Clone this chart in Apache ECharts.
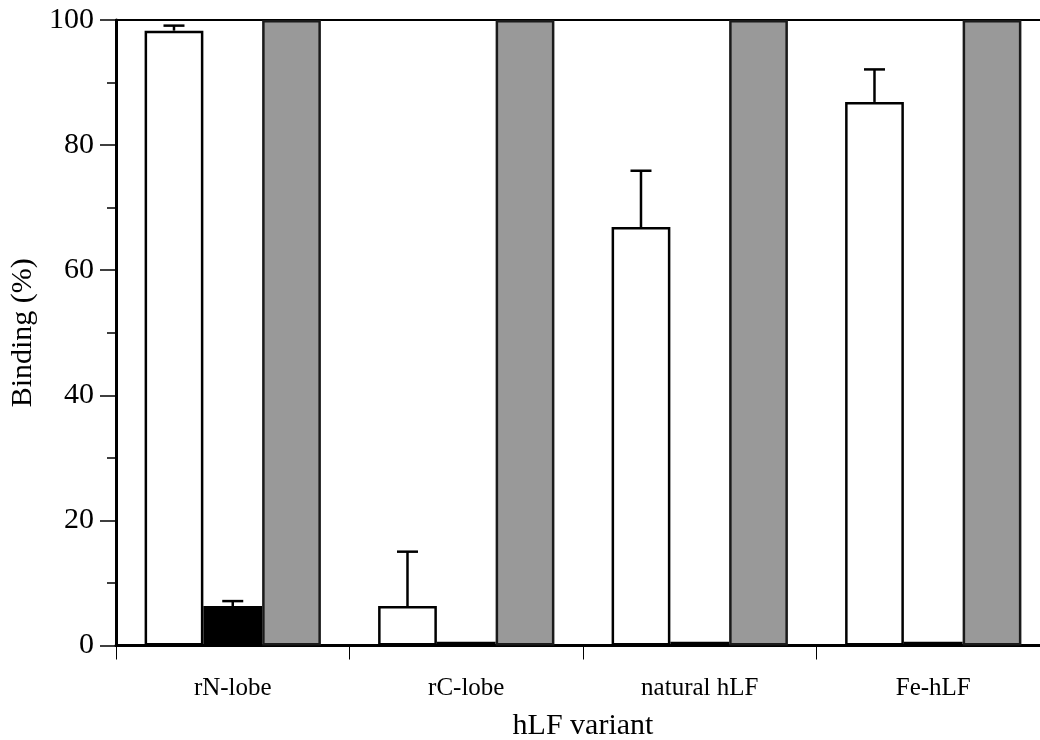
<!DOCTYPE html>
<html>
<head>
<meta charset="utf-8">
<script src="https://cdn.jsdelivr.net/npm/echarts@6/dist/echarts.min.js"></script>
<style>
html,body{margin:0;padding:0;background:#fff;}
#chart{width:1040px;height:740px;}
</style>
</head>
<body>
<div id="chart"></div>
<script>
const categories = ['rN-lobe', 'rC-lobe', 'natural hLF', 'Fe-hLF'];
const whiteValues = [98.3, 6.3, 66.9, 86.9];
const whiteErrTop = [99.1, 15.0, 75.9, 92.1];
const blackValues = [6.3, 0.6, 0.6, 0.6];
const blackErrTop = [7.1, null, null, null];
const grayValues = [100, 100, 100, 100];
const yTicks = [0, 20, 40, 60, 80, 100];

const FONT = '"Liberation Serif", "Times New Roman", serif';
const CAT_GAP = 0.245;
const chart = echarts.init(document.getElementById('chart'), null, {renderer: 'canvas'});

function errData(vals, tops) {
  const out = [];
  vals.forEach((v, i) => { if (tops[i] != null) out.push([i, v, tops[i]]); });
  return out;
}
function errSeries(data, slot) {
  return {
    type: 'custom',
    z: 5,
    data: data,
    encode: {x: 0, y: [1, 2]},
    renderItem: function (params, api) {
      const bw = api.size([1, 0])[0];
      const barW = bw * (1 - CAT_GAP) / 3;
      const base = api.coord([api.value(0), api.value(1)]);
      const top = api.coord([api.value(0), api.value(2)]);
      const x = base[0] + (slot - 1) * barW;
      const style = {stroke: '#000', lineWidth: 2.5};
      return {
        type: 'group',
        children: [
          {type: 'line', shape: {x1: x, y1: base[1], x2: x, y2: top[1]}, style: style},
          {type: 'line', shape: {x1: x - 10.5, y1: top[1], x2: x + 10.5, y2: top[1]}, style: style}
        ]
      };
    }
  };
}

const gapStr = (CAT_GAP * 100) + '%';
chart.setOption({
  animation: false,
  backgroundColor: '#fff',
  grid: {left: 116, top: 20, width: 934, height: 625.5, containLabel: false, outerBoundsMode: 'none',
    show: true, borderColor: '#000', borderWidth: 2, backgroundColor: 'transparent'},
  xAxis: {
    type: 'category',
    data: categories,
    name: 'hLF variant',
    nameLocation: 'middle',
    nameGap: 66,
    nameTextStyle: {fontFamily: FONT, fontSize: 30, color: '#000'},
    axisLine: {lineStyle: {color: '#000', width: 3}},
    axisTick: {show: true, length: 14, lineStyle: {color: '#000', width: 1}},
    axisLabel: {fontFamily: FONT, fontSize: 25, color: '#000', margin: 30},
    splitLine: {show: false}
  },
  yAxis: {
    type: 'value',
    min: 0,
    max: 100,
    interval: 20,
    name: 'Binding (%)',
    nameLocation: 'middle',
    nameGap: 73,
    nameRotate: 90,
    nameTextStyle: {fontFamily: FONT, fontSize: 30, color: '#000'},
    axisLine: {show: true, lineStyle: {color: '#000', width: 3}},
    axisTick: {show: true, length: 16, lineStyle: {color: '#000', width: 1.5}},
    minorTick: {show: true, splitNumber: 2, length: 9, lineStyle: {color: '#000', width: 1.5}},
    axisLabel: {fontFamily: FONT, fontSize: 30, color: '#000', margin: 22,
      formatter: function (v) { return yTicks.indexOf(v) >= 0 ? String(v) : ''; }},
    splitLine: {show: false}
  },
  series: [
    {type: 'bar', data: whiteValues, barGap: '0%', barCategoryGap: gapStr,
      itemStyle: {color: '#fff', borderColor: '#000', borderWidth: 2.5}},
    {type: 'bar', data: blackValues, barGap: '0%', barCategoryGap: gapStr,
      itemStyle: {color: '#000', borderColor: '#000', borderWidth: 2.5}},
    {type: 'bar', data: grayValues, barGap: '0%', barCategoryGap: gapStr,
      itemStyle: {color: '#999999', borderColor: '#1a1a1a', borderWidth: 2.5}},
    errSeries(errData(whiteValues, whiteErrTop), 0),
    errSeries(errData(blackValues, blackErrTop), 1)
  ]
});
</script>
</body>
</html>
